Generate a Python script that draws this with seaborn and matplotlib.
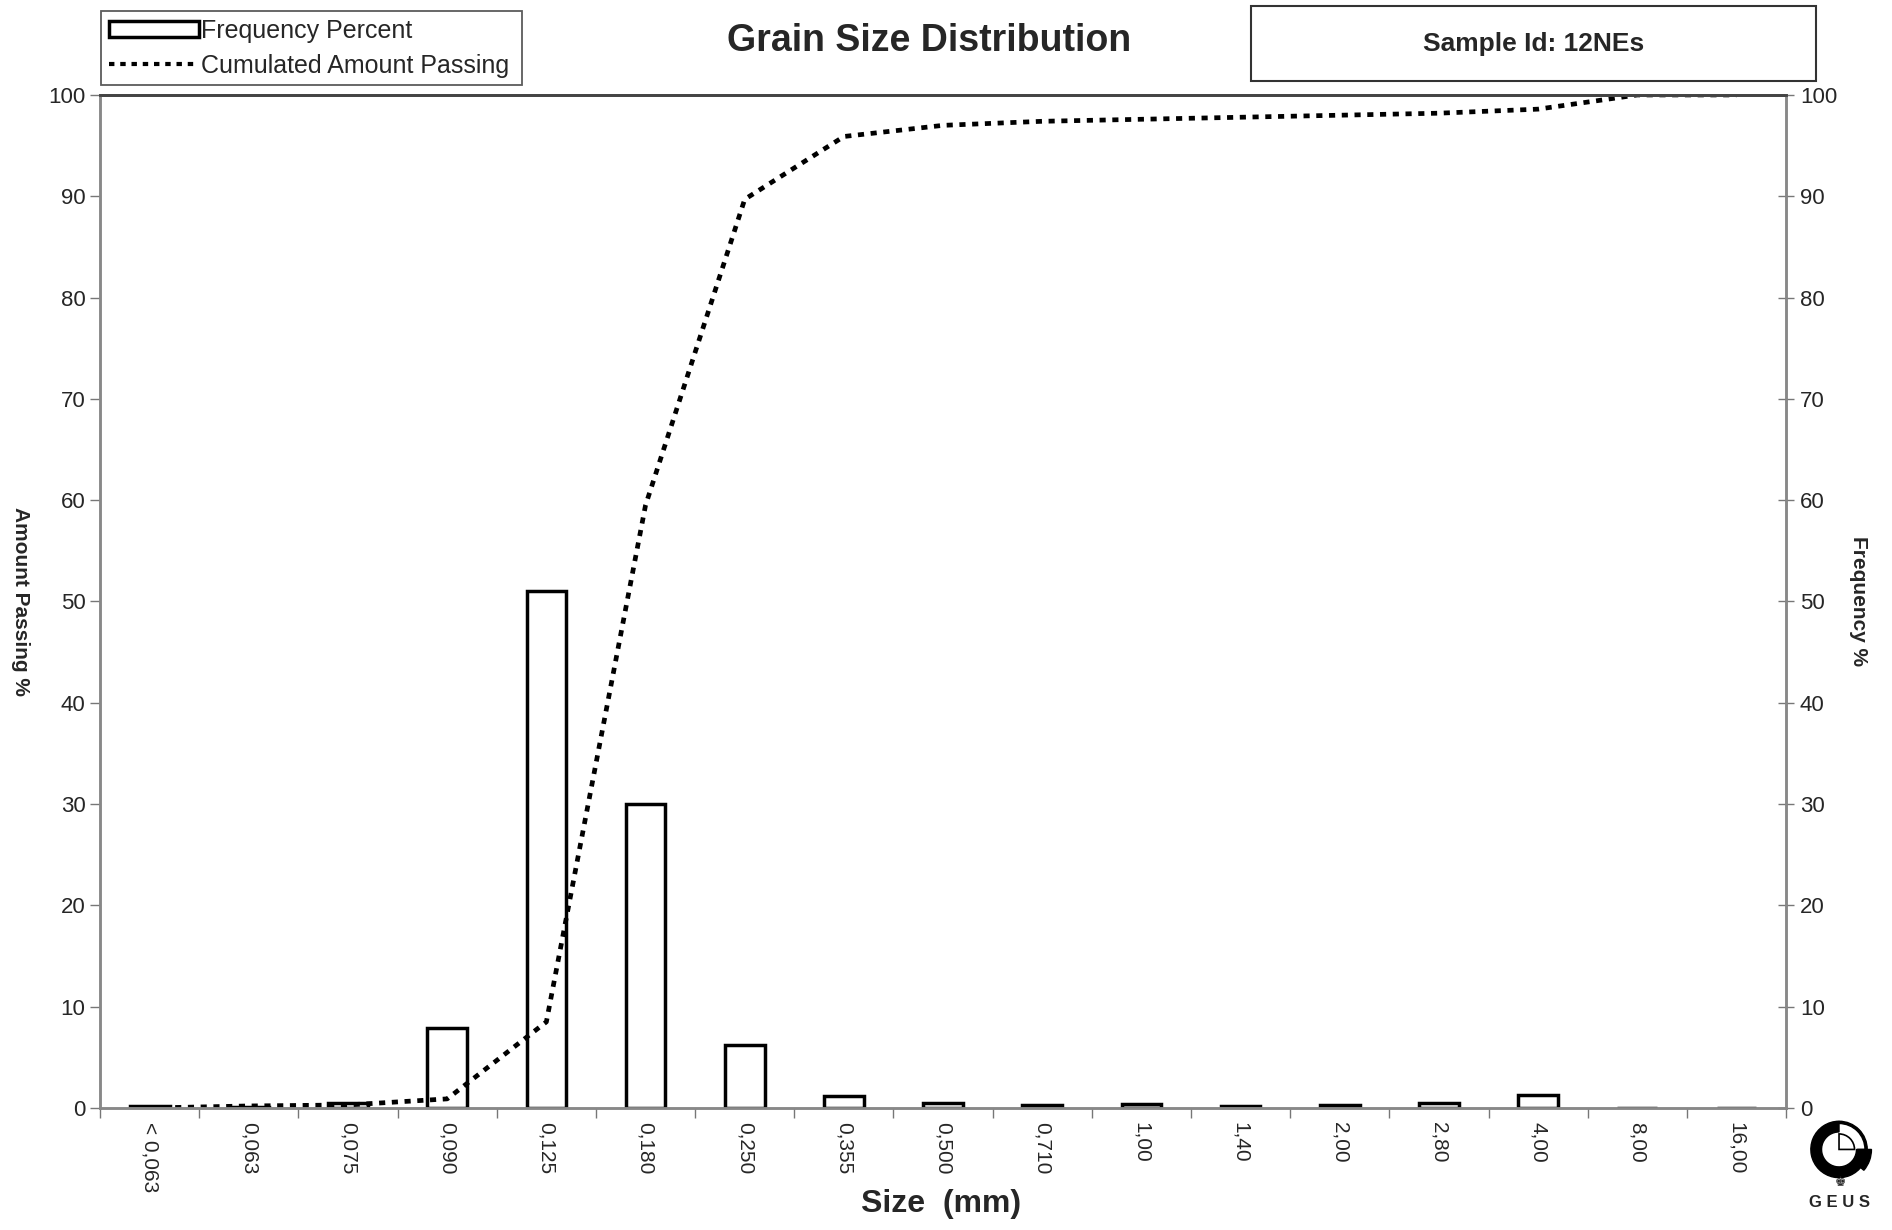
import numpy as np
import pandas as pd
import seaborn as sns
import matplotlib.pyplot as plt
from matplotlib.patches import Patch, Rectangle, Wedge
from matplotlib.lines import Line2D

# sieve sizes (mm) and values
sizes = ['< 0,063', '0,063', '0,075', '0,090', '0,125', '0,180', '0,250', '0,355',
         '0,500', '0,710', '1,00', '1,40', '2,00', '2,80', '4,00', '8,00', '16,00']
freq_pct = [0.2, 0.1, 0.5, 7.9, 51.0, 30.0, 6.2, 1.2, 0.5, 0.3, 0.4, 0.2, 0.3, 0.5, 1.3, 0.0, 0.0]
passing_pct = [0.0, 0.2, 0.3, 0.9, 8.5, 59.5, 89.7, 95.9, 97.0, 97.4, 97.6, 97.8, 98.0, 98.2, 98.6, 100.0, 100.0]
yticks = list(range(0, 101, 10))

df = pd.DataFrame({'size': sizes, 'freq': freq_pct, 'passing': passing_pct})
df['pos'] = np.arange(len(df))

sns.set_style('white')
plt.rcParams['font.family'] = ['Liberation Sans', 'DejaVu Sans']

fig = plt.figure(figsize=(18.92, 12.3), dpi=100)
ax = fig.add_axes([0.0529, 0.0992, 0.8911, 0.8236])

sns.barplot(data=df, x='size', y='freq', order=sizes, color='white', saturation=1,
            edgecolor='black', linewidth=2.5, width=0.4, ax=ax)
sns.lineplot(data=df, x='pos', y='passing', color='black', linewidth=3.4,
             linestyle=(0, (1.3, 1.4)), sort=False, ax=ax)

ax.set_xlim(-0.5, len(sizes) - 0.5)
ax.set_ylim(0, 100)

# tick marks on the category boundaries, labels at the centres
ax.set_xticks(np.arange(-0.5, len(sizes), 1))
ax.set_xticklabels([])
ax.set_xticks(df['pos'], minor=True)
ax.set_xticklabels(sizes, minor=True, rotation=270, fontsize=15)
ax.tick_params(axis='x', which='major', length=7, width=1, color='#777777', direction='out', bottom=True)
ax.tick_params(axis='x', which='minor', length=0, pad=10)

ax.set_yticks(yticks)
ax.set_yticklabels([str(t) for t in yticks], fontsize=16)
ax.tick_params(axis='y', length=7, width=1, color='#777777', direction='out', left=True)

ax2 = ax.twinx()
ax2.set_ylim(0, 100)
ax2.set_yticks(yticks)
ax2.set_yticklabels([str(t) for t in yticks], fontsize=16)
ax2.tick_params(axis='y', length=12, width=1, color='#777777', direction='inout', right=True, pad=4)

for a in (ax, ax2):
    for s in ('left', 'right', 'bottom'):
        a.spines[s].set_color('#888888')
        a.spines[s].set_linewidth(1.8)
    a.spines['top'].set_color('#444444')
    a.spines['top'].set_linewidth(2)

ax.set_xlabel('Size  (mm)', fontsize=23, fontweight='bold')
ax.xaxis.set_label_coords(0.499, -0.08)
ax.set_ylabel('Amount Passing %', fontsize=15, fontweight='bold', rotation=270, va='center')
ax.yaxis.set_label_coords(-0.047, 0.5)
ax2.set_ylabel('Frequency %', fontsize=15, fontweight='bold', rotation=270, va='center')
ax2.yaxis.set_label_coords(1.043, 0.5)

fig.text(0.491, 0.967, 'Grain Size Distribution', fontsize=27, fontweight='bold',
         ha='center', va='center')

# sample id box
fig.patches.append(Rectangle((0.6612, 0.9341), 0.2986, 0.061, transform=fig.transFigure,
                             fill=False, edgecolor='#333333', linewidth=1.5))
fig.text(0.8105, 0.9645, 'Sample Id: 12NEs', fontsize=19, fontweight='bold',
         ha='center', va='center')

handles = [Patch(facecolor='white', edgecolor='black', linewidth=2.5),
           Line2D([0], [0], color='black', linewidth=3, linestyle=(0, (1.3, 1.4)))]
leg = fig.legend(handles, ['Frequency Percent', 'Cumulated Amount Passing'],
                 loc='upper left', bbox_to_anchor=(0.0534, 0.934, 0.2225, 0.057),
                 mode='expand', fontsize=18, frameon=True, fancybox=False,
                 edgecolor='#333333', handlelength=3.6, handleheight=0.6,
                 handletextpad=0.1, labelspacing=0.45, borderpad=0.3, borderaxespad=0)
leg.get_frame().set_linewidth(1.3)

# GEUS logo
lax = fig.add_axes([0.954, 0.038, 0.036, 0.055])
lax.set_aspect('equal')
lax.set_xlim(-1.2, 1.2)
lax.set_ylim(-1.2, 1.2)
lax.axis('off')
lax.add_patch(Wedge((0, 0), 1.0, 90, 360, width=0.38, color='black'))
lax.add_patch(Wedge((0, 0), 1.15, -40, 0, width=0.5, color='black'))
lax.add_patch(Wedge((0, 0), 1.0, 0, 90, width=0.08, color='black'))
lax.add_patch(Wedge((0, 0), 0.55, 0, 90, fill=False, edgecolor='black', linewidth=1.2))
fig.text(0.972, 0.022, 'G E U S', fontsize=12, fontweight='bold', ha='center', va='center')
fig.text(0.9725, 0.039, '\u265a', fontsize=9, ha='center', va='center', family=['DejaVu Sans'])

fig.savefig('out.png', dpi=100, facecolor='white')
